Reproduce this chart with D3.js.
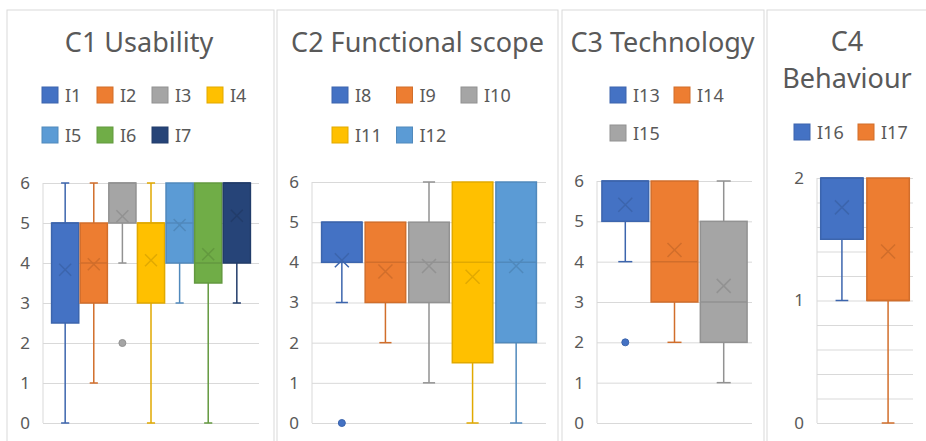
<!DOCTYPE html>
<html>
<head>
<meta charset="utf-8">
<script src="https://cdn.jsdelivr.net/npm/d3@7"></script>
<style>
  body { margin: 0; background: #fff; }
  text { font-family: "Noto Sans", sans-serif; fill: #595959; }
</style>
</head>
<body>
<svg id="chart"></svg>
<script>
// box plots per criterion, one box per indicator

const titles = [["C1 Usability"], ["C2 Functional scope"], ["C3 Technology"], ["C4", "Behaviour"]];
const items  = ["I1","I2","I3","I4","I5","I6","I7","I8","I9","I10","I11","I12","I13","I14","I15","I16","I17"];
const group  = [0,0,0,0,0,0,0, 1,1,1,1,1, 2,2,2, 3,3];
const w_min  = [0,1,4,0,3,0,3, 3,2,1,0,0, 4,2,1, 1,0];
const q1     = [2.5,3,5,3,4,3.5,4, 4,3,3,1.5,2, 5,3,2, 1.5,1];
const median = [5,4,6,5,5,4,6, 5,4,4,4,4, 6,4,3, 2,1];
const q3     = [5,5,6,5,6,6,6, 5,5,5,6,6, 6,6,5, 2,2];
const w_max  = [6,6,6,6,6,6,6, 5,5,6,6,6, 6,6,6, 2,2];
const mean   = [3.83,3.97,5.17,4.07,4.95,4.22,5.18, 4.05,3.77,3.91,3.64,3.91, 5.41,4.29,3.40, 1.76,1.40];
const outliers = [[],[],[2],[],[],[],[], [0],[],[],[],[], [2],[],[], [],[]];
const y_max  = [6, 6, 6, 2];
const grid_step = [1, 1, 1, 0.2];

const palette = ["#4472C4","#ED7D31","#A5A5A5","#FFC000","#5B9BD5","#70AD47","#264478"];

const W = 926, H = 441;

// panel layout (pixels)
const layout = [
  {bx:7,   bw:267, px:[43,259],  py:[423,183], pi:0.05, po:0.3,  legX:42,  legDx:55,   cols:4, legY:[95,135], tx:139,   ty:[52]},
  {bx:277, bw:281, px:[312,546], py:[423,182], pi:0.07, po:0.22, legX:332, legDx:64.5, cols:3, legY:[95,135], tx:417.5, ty:[52]},
  {bx:562, bw:202, px:[597,752], py:[423,181], pi:0.05, po:0.1,  legX:610, legDx:64,   cols:2, legY:[95,133], tx:662.5, ty:[52]},
  {bx:767, bw:170, px:[817,913], py:[423,178], pi:0.08, po:0.08, legX:794, legDx:64,   cols:2, legY:[132],    tx:847,   ty:[51,88]}
];

const dark = c => d3.color(c).darker(0.35).formatHex();

let svg = d3.select("#chart")
  .attr("width", W)
  .attr("height", H);

layout.forEach((L, p) => {
  const idx = d3.range(items.length).filter(i => group[i] === p);
  let g = svg.append("g");

  g.append("rect")
    .attr("x", L.bx).attr("y", 10)
    .attr("width", L.bw).attr("height", H)
    .attr("fill", "#fff")
    .attr("stroke", "#d9d9d9");

  titles[p].forEach((t, k) => {
    g.append("text")
      .attr("x", L.tx).attr("y", L.ty[k])
      .attr("text-anchor", "middle")
      .attr("font-size", 27)
      .text(t);
  });

  // legend
  idx.forEach((i, k) => {
    const lx = L.legX + (k % L.cols) * L.legDx;
    const ly = L.legY[Math.floor(k / L.cols)];
    g.append("rect")
      .attr("x", lx).attr("y", ly - 8)
      .attr("width", 16).attr("height", 16)
      .attr("fill", palette[k])
      .attr("stroke", dark(palette[k]));
    g.append("text")
      .attr("x", lx + 23).attr("y", ly + 6.5)
      .attr("font-size", 18)
      .text(items[i]);
  });

  let y = d3.scaleLinear().domain([0, y_max[p]]).range(L.py);
  let x = d3.scaleBand()
    .domain(idx.map(i => items[i]))
    .range(L.px)
    .paddingInner(L.pi)
    .paddingOuter(L.po);

  // gridlines
  const gridVals = d3.range(0, y_max[p] + 1e-6, grid_step[p]);
  g.append("g")
    .attr("transform", `translate(${L.px[0]},0)`)
    .call(d3.axisLeft(y).tickValues(gridVals).tickSize(-(L.px[1] - L.px[0])).tickFormat(""))
    .call(a => a.select(".domain").remove())
    .call(a => a.selectAll("line").attr("stroke", "#d9d9d9"));

  g.append("line")
    .attr("x1", L.px[0]).attr("x2", L.px[0])
    .attr("y1", y(0)).attr("y2", y(y_max[p]))
    .attr("stroke", "#d9d9d9");

  // tick labels
  g.append("g")
    .attr("transform", `translate(${L.px[0]},0)`)
    .call(d3.axisLeft(y).tickValues(d3.range(0, y_max[p] + 1)).tickSize(0).tickPadding(13).tickFormat(d3.format("d")))
    .call(a => a.select(".domain").remove())
    .call(a => a.selectAll("text").attr("font-size", 17).attr("fill", "#595959").attr("font-family", "Noto Sans"));

  // boxes
  const bw = x.bandwidth();
  const cap = 0.3 * bw;
  const xs = Math.min(7, 0.22 * bw);
  idx.forEach((i, k) => {
    const col = palette[k], dc = dark(col);
    const x0 = x(items[i]), cx = x0 + bw / 2;
    let b = g.append("g");

    if (w_min[i] < q1[i]) {
      b.append("line").attr("x1", cx).attr("x2", cx).attr("y1", y(q1[i])).attr("y2", y(w_min[i])).attr("stroke", dc).attr("stroke-width", 1.5);
      b.append("line").attr("x1", cx - cap / 2).attr("x2", cx + cap / 2).attr("y1", y(w_min[i])).attr("y2", y(w_min[i])).attr("stroke", dc).attr("stroke-width", 1.5);
    }
    if (w_max[i] > q3[i]) {
      b.append("line").attr("x1", cx).attr("x2", cx).attr("y1", y(q3[i])).attr("y2", y(w_max[i])).attr("stroke", dc).attr("stroke-width", 1.5);
      b.append("line").attr("x1", cx - cap / 2).attr("x2", cx + cap / 2).attr("y1", y(w_max[i])).attr("y2", y(w_max[i])).attr("stroke", dc).attr("stroke-width", 1.5);
    }

    b.append("rect")
      .attr("x", x0).attr("y", y(q3[i]))
      .attr("width", bw).attr("height", y(q1[i]) - y(q3[i]))
      .attr("fill", col)
      .attr("stroke", dc).attr("stroke-width", 1.5);

    b.append("line")
      .attr("x1", x0).attr("x2", x0 + bw)
      .attr("y1", y(median[i])).attr("y2", y(median[i]))
      .attr("stroke", dc).attr("stroke-width", 1.5);

    const my = y(mean[i]);
    b.append("path")
      .attr("d", `M${cx - xs},${my - xs}L${cx + xs},${my + xs}M${cx - xs},${my + xs}L${cx + xs},${my - xs}`)
      .attr("stroke", dc).attr("stroke-width", 1.5).attr("fill", "none");

    b.selectAll("circle")
      .data(outliers[i])
      .enter().append("circle")
      .attr("cx", cx).attr("cy", d => y(d))
      .attr("r", 3.5)
      .attr("fill", col)
      .attr("stroke", dc);
  });
});
</script>
</body>
</html>
